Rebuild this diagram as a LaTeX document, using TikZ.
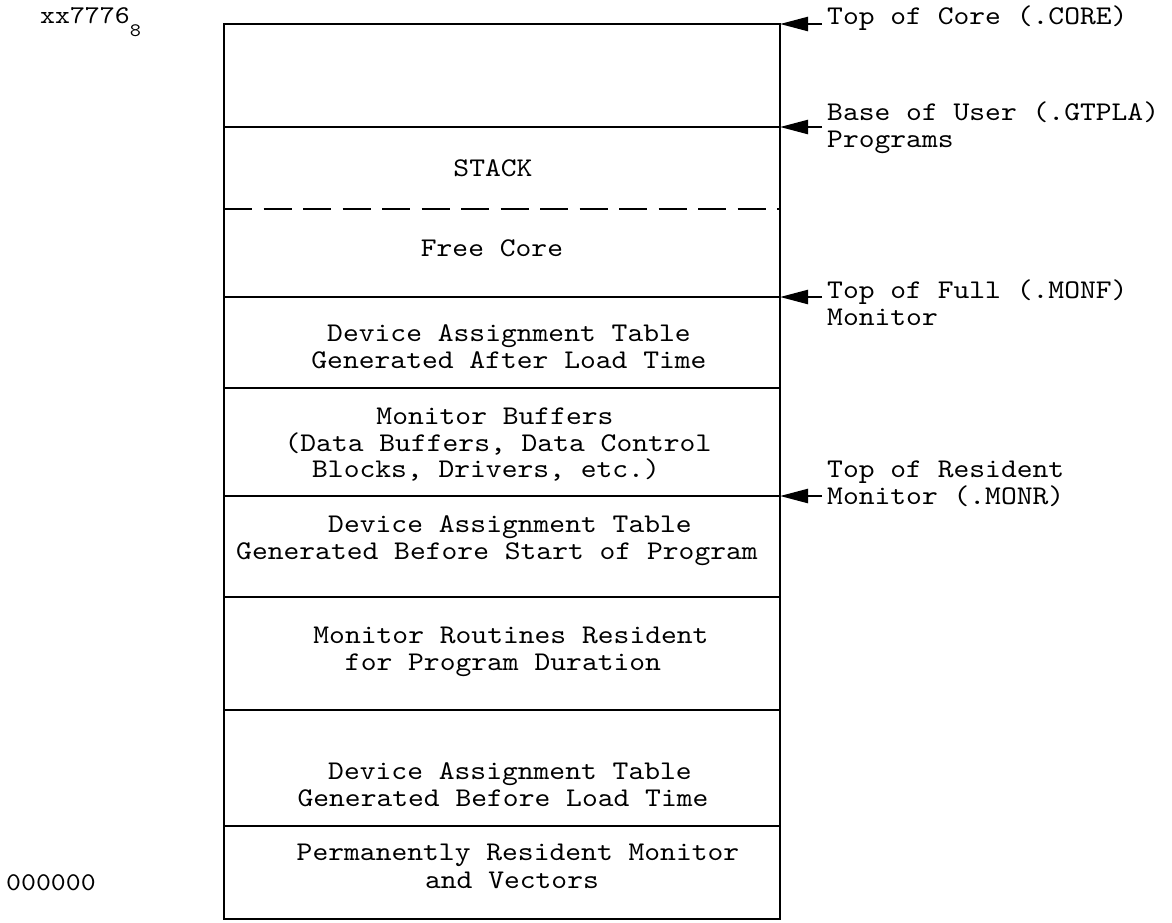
\documentclass[tikz,border=0pt]{standalone}
\usepackage{fontspec}
\newfontfamily\tw[FakeStretch=1.115]{lmmono10-regular.otf}
\usetikzlibrary{arrows.meta}
\begin{document}
\begin{tikzpicture}[x=1pt,y=-1pt,
  wall/.style={line width=2.4pt},
  sep/.style={line width=2.4pt, dash pattern=on 28pt off 11.5pt},
  txt/.style={font=\tw\fontsize{27}{27}\selectfont, anchor=base, inner sep=0pt},
  lbl/.style={font=\tw\fontsize{27}{27}\selectfont, anchor=base west, inner sep=0pt},
  addr/.style={font=\tw\fontsize{25.5}{26}\selectfont, anchor=base west, inner sep=0pt},
  ptr/.style={line width=2.4pt, -{Triangle[length=28pt,width=14pt]}}]
\useasboundingbox (0,0) rectangle (1172,922);
% memory column
\draw[wall] (224,24) rectangle (780,919);
\draw[wall] (224,127) -- (780,127);
\draw[sep] (224,209) -- (780,209);
\draw[wall] (224,297) -- (780,297);
\draw[wall] (224,388) -- (780,388);
\draw[wall] (224,496) -- (780,496);
\draw[wall] (224,597) -- (780,597);
\draw[wall] (224,710) -- (780,710);
\draw[wall] (224,826) -- (780,826);
% contents
\node[txt] (stack) at (493,176) {STACK};
\node[txt] (free) at (492,256) {Free Core};
\node[txt] (da1) at (509,341) {Device Assignment Table};
\node[txt] (da2) at (509,368) {Generated After Load Time};
\node[txt] (mb1) at (495,424) {Monitor Buffers};
\node[txt] (mb2) at (498,451) {(Data Buffers, Data Control};
\node[txt] (mb3) at (486,477) {Blocks, Drivers, etc.)};
\node[txt] (db1) at (510,532) {Device Assignment Table};
\node[txt] (db2) at (497,559) {Generated Before Start of Program};
\node[txt] (mr1) at (511,643) {Monitor Routines Resident};
\node[txt] (mr2) at (503,670) {for Program Duration};
\node[txt] (dl1) at (510,779) {Device Assignment Table};
\node[txt] (dl2) at (503,806) {Generated Before Load Time};
\node[txt] (pr1) at (518,860) {Permanently Resident Monitor};
\node[txt] (pr2) at (512,888) {and Vectors};
% addresses
\node[addr] (hi) at (40,23) {xx7776\raisebox{-13pt}{\fontsize{19}{19}\selectfont 8}};
\node[addr] (lo) at (6,890) {000000};
% pointer labels
\node[lbl] (c1) at (827,24) {Top of Core (.CORE)};
\node[lbl] (u1) at (827,120) {Base of User (.GTPLA)};
\node[lbl] (u2) at (827,147) {Programs};
\node[lbl] (f1) at (827,298) {Top of Full (.MONF)};
\node[lbl] (f2) at (827,325) {Monitor};
\node[lbl] (r1) at (827,477) {Top of Resident};
\node[lbl] (r2) at (827,504) {Monitor (.MONR)};
% pointer ends
\coordinate (ec) at (780,24);
\coordinate (eu) at (780,127);
\coordinate (ef) at (780,297);
\coordinate (er) at (780,496);
\coordinate (sc) at (822,24);
\coordinate (su) at (822,127);
\coordinate (sf) at (822,297);
\coordinate (sr) at (822,496);
\draw[ptr] (sc) -- (ec);
\draw[ptr] (su) -- (eu);
\draw[ptr] (sf) -- (ef);
\draw[ptr] (sr) -- (er);
\end{tikzpicture}
\end{document}
